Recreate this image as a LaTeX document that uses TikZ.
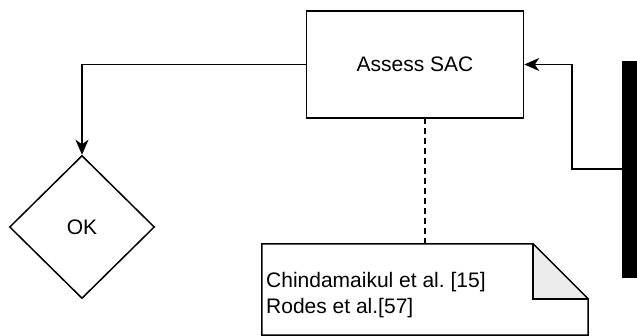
\documentclass[tikz,border=0pt]{standalone}
\usepackage{fontspec}
\setmainfont{Liberation Sans}
\usetikzlibrary{shapes.geometric,arrows.meta,calc}
\frenchspacing
\begin{document}
\begin{tikzpicture}[x=1pt,y=-1pt,
  every node/.style={font=\fontsize{21}{26}\selectfont},
  box/.style={draw, line width=1.5pt, minimum width=217pt, minimum height=107pt, inner sep=0pt},
  dia/.style={draw, diamond, line width=1.5pt, minimum width=145pt, minimum height=143pt, inner sep=0pt},
  arr/.style={line width=1.5pt, -{Stealth[length=15pt,width=13pt,inset=4.5pt]}},
  link/.style={line width=1.5pt, dash pattern=on 6pt off 4pt}
]
\useasboundingbox (0,0) rectangle (637,336);
\node[box] (sac) at (415,64.5) {Assess SAC};
\node[dia] (ok) at (82,227) {OK};
\node[fill=black, draw=black, minimum width=15pt, minimum height=216pt, inner sep=0pt] (bar) at (629.5,169) {};
\node[minimum width=326pt, minimum height=91pt, inner sep=0pt] (note) at (425,289.5) {};
\fill[gray!15] ($(note.north east)+(-55,0)$) -- ($(note.north east)+(-55,55)$) -- ($(note.north east)+(0,55)$) -- cycle;
\draw[line width=1.5pt, line join=miter] (note.north west) -- ($(note.north east)+(-55,0)$) -- ($(note.north east)+(0,55)$) -- (note.south east) -- (note.south west) -- cycle;
\draw[line width=1.5pt] ($(note.north east)+(-55,0)$) -- ($(note.north east)+(-55,55)$) -- ($(note.north east)+(0,55)$);
\node[anchor=west, align=left, inner sep=0pt] (refs) at (266,295) {Chindamaikul et al. [15]\\Rodes et al.[57]};
\coordinate (k) at (572,169);
\draw[arr] (sac.west) -| (ok.north);
\draw[arr] (bar.west) -- (k) |- (sac.east);
\draw[link] (note.north) -- (note.north |- sac.south);
\end{tikzpicture}
\end{document}
